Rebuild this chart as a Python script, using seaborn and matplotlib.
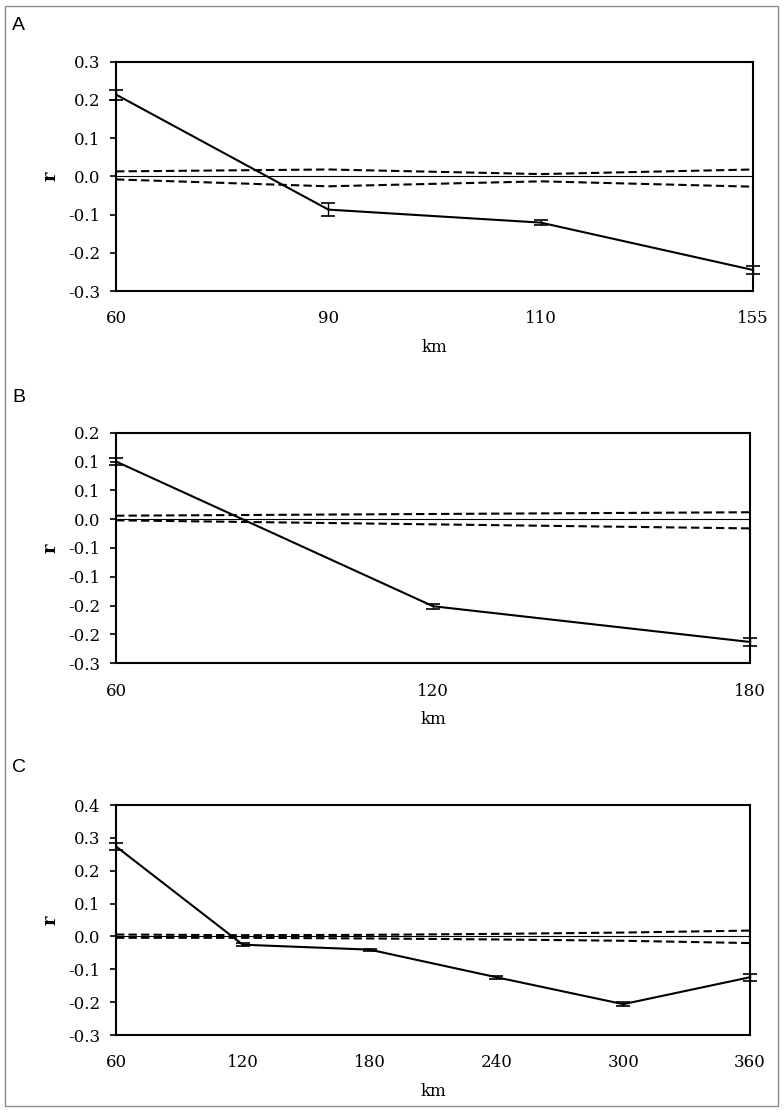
import numpy as np
import pandas as pd
import matplotlib
matplotlib.use("Agg")
import matplotlib.pyplot as plt
import seaborn as sns
from matplotlib.patches import Rectangle

# ---- data ----
# panel A
km_a = [60, 90, 110, 155]
r_a = [0.214, -0.087, -0.121, -0.245]
err_a = [0.013, 0.016, 0.006, 0.011]
upper_a = [0.013, 0.018, 0.006, 0.018]
lower_a = [-0.008, -0.026, -0.013, -0.027]
yticks_a = [-0.3, -0.2, -0.1, 0.0, 0.1, 0.2, 0.3]
ylabels_a = ["-0.3", "-0.2", "-0.1", "0.0", "0.1", "0.2", "0.3"]

# panel B
km_b = [60, 120, 180]
r_b = [0.100, -0.151, -0.213]
err_b = [0.006, 0.004, 0.007]
upper_b = [0.006, 0.009, 0.012]
lower_b = [-0.002, -0.009, -0.016]
yticks_b = [-0.25, -0.2, -0.15, -0.1, -0.05, 0.0, 0.05, 0.1, 0.15]
ylabels_b = ["-0.3", "-0.2", "-0.2", "-0.1", "-0.1", "0.0", "0.1", "0.1", "0.2"]

# panel C
km_c = [60, 120, 180, 240, 300, 360]
r_c = [0.274, -0.025, -0.040, -0.124, -0.206, -0.124]
err_c = [0.012, 0.004, 0.003, 0.004, 0.006, 0.011]
upper_c = [0.006, 0.004, 0.005, 0.008, 0.012, 0.018]
lower_c = [-0.004, -0.004, -0.006, -0.009, -0.013, -0.020]
yticks_c = [-0.3, -0.2, -0.1, 0.0, 0.1, 0.2, 0.3, 0.4]
ylabels_c = ["-0.3", "-0.2", "-0.1", "0.0", "0.1", "0.2", "0.3", "0.4"]

panels = [
    ("A", km_a, r_a, err_a, upper_a, lower_a, yticks_a, ylabels_a, [0.148, 0.7383, 0.8125, 0.2062]),
    ("B", km_b, r_b, err_b, upper_b, lower_b, yticks_b, ylabels_b, [0.148, 0.4035, 0.8087, 0.2074]),
    ("C", km_c, r_c, err_c, upper_c, lower_c, yticks_c, ylabels_c, [0.148, 0.0692, 0.8087, 0.2068]),
]
letter_y = [1 - 25 / 1112, 1 - 397 / 1112, 1 - 768 / 1112]

sns.set_theme(style="white")
plt.rcParams['font.family'] = ['DejaVu Serif']
plt.rcParams['text.color'] = 'black'
plt.rcParams['axes.labelcolor'] = 'black'
plt.rcParams['xtick.color'] = 'black'
plt.rcParams['ytick.color'] = 'black'

fig = plt.figure(figsize=(7.84, 11.12), dpi=100)
fig.patches.append(Rectangle((5 / 784, 6 / 1112), 773 / 784, 1100 / 1112,
                             transform=fig.transFigure, fill=False,
                             edgecolor='#8c8c8c', linewidth=1.0))

for (letter, km, r, err, up, lo, yt, yl, rect), ly in zip(panels, letter_y):
    ax = fig.add_axes(rect)
    df = pd.DataFrame({'pos': np.arange(len(km)), 'r': r, 'upper': up, 'lower': lo})

    ax.axhline(0, color='black', linewidth=0.8, zorder=1)
    sns.lineplot(data=df, x='pos', y='upper', ax=ax, color='black', linewidth=1.5,
                 linestyle=(0, (4, 2)))
    sns.lineplot(data=df, x='pos', y='lower', ax=ax, color='black', linewidth=1.5,
                 linestyle=(0, (4, 2)))
    sns.lineplot(data=df, x='pos', y='r', ax=ax, color='black', linewidth=1.5)
    ax.errorbar(df['pos'], df['r'], yerr=err, fmt='none', ecolor='black',
                elinewidth=1.0, capsize=5, capthick=1.2, clip_on=False, zorder=5)

    ax.set_xlim(0, len(km) - 1)
    ax.set_ylim(yt[0], yt[-1])
    ax.set_xticks(df['pos'])
    ax.set_xticklabels([str(k) for k in km], fontsize=12)
    ax.set_yticks(yt)
    ax.set_yticklabels(yl, fontsize=12)
    ax.tick_params(axis='x', length=0, pad=14)
    ax.tick_params(axis='y', direction='out', length=4.5, width=1.2, pad=7, left=True)
    ax.set_xlabel('km', fontsize=12, labelpad=8)
    ax.set_ylabel('r', fontsize=13, fontweight='bold', labelpad=6)
    for s in ax.spines.values():
        s.set_color('black')
        s.set_linewidth(1.5)

    fig.text(12 / 784, ly, letter, fontsize=14, family='Liberation Sans',
             ha='left', va='center')

fig.savefig('out.png', dpi=100)
